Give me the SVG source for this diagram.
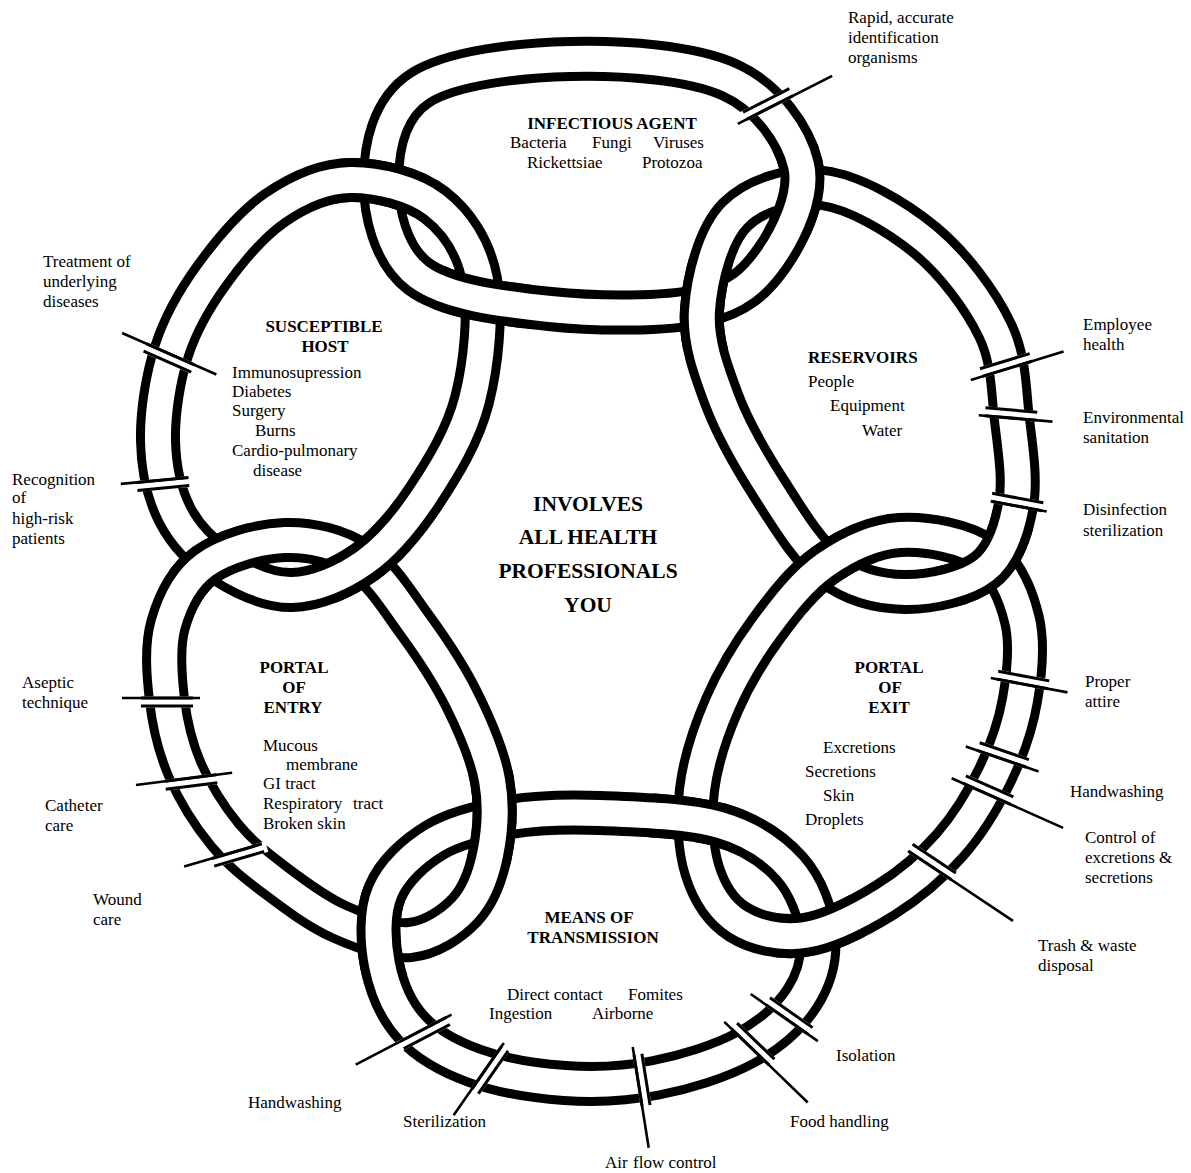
<svg xmlns="http://www.w3.org/2000/svg" width="1191" height="1173" viewBox="0 0 1191 1173">
<defs>
<style>
.ob{fill:none;stroke:#000;stroke-width:44}
.iw{fill:none;stroke:#fff;stroke-width:26}
.t{font-family:"Liberation Serif","Times New Roman",serif;font-size:17px;fill:#000}
.b{font-weight:bold}
.m{text-anchor:middle}
.big{font-size:21.5px}
.ld{stroke:#000;stroke-width:2.6;fill:none}
.cl{stroke:#000;stroke-width:3}
</style>
<path id="pT" d="M 381,180 C 381.3,148.7 388.5,108.2 420,88 C 451.5,67.8 518.3,60.3 570,59 C 621.7,57.7 691.5,62.3 730,80 C 768.5,97.7 794,135.3 801,165 C 808,194.7 788.5,234.5 772,258 C 755.5,281.5 739,297.5 702,306 C 665,314.5 597.3,314 550,309 C 502.7,304 446.2,297.5 418,276 C 389.8,254.5 380.7,211.3 381,180 Z"/>
<path id="pS" d="M 350,180 C 376.7,179.5 413.3,188.3 435,205 C 456.7,221.7 473.8,247.5 480,280 C 486.2,312.5 481.2,364.2 472,400 C 462.8,435.8 442.8,468 425,495 C 407.2,522 387.2,546.2 365,562 C 342.8,577.8 315.8,589.5 292,590 C 268.2,590.5 241.5,577.5 222,565 C 202.5,552.5 185.7,535.8 175,515 C 164.3,494.2 158.5,467.5 158,440 C 157.5,412.5 163,377.5 172,350 C 181,322.5 194.8,298.7 212,275 C 229.2,251.3 252,223.8 275,208 C 298,192.2 323.3,180.5 350,180 Z"/>
<path id="pR" d="M 823,188 C 854.7,192.2 896.3,216.3 925,240 C 953.7,263.7 980.5,300 995,330 C 1009.5,360 1008.5,390.8 1012,420 C 1015.5,449.2 1020.5,480 1016,505 C 1011.5,530 1003.5,555.5 985,570 C 966.5,584.5 930.8,592.3 905,592 C 879.2,591.7 852.5,585 830,568 C 807.5,551 788,518 770,490 C 752,462 733.3,430 722,400 C 710.7,370 699.8,340.8 702,310 C 704.2,279.2 714.8,235.3 735,215 C 755.2,194.7 791.3,183.8 823,188 Z"/>
<path id="pX" d="M 900,535 C 926.7,533.3 964.7,540.8 985,555 C 1005.3,569.2 1016.2,595.8 1022,620 C 1027.8,644.2 1024.5,674.2 1020,700 C 1015.5,725.8 1006.7,750.8 995,775 C 983.3,799.2 968.3,824.2 950,845 C 931.7,865.8 909.2,885 885,900 C 860.8,915 829.5,931.3 805,935 C 780.5,938.7 755.2,932.8 738,922 C 720.8,911.2 708.8,892 702,870 C 695.2,848 693.7,817.5 697,790 C 700.3,762.5 710.3,732 722,705 C 733.7,678 749.8,651.3 767,628 C 784.2,604.7 802.8,580.5 825,565 C 847.2,549.5 873.3,536.7 900,535 Z"/>
<path id="pM" d="M 600,813 C 635,814.3 688.3,815.8 720,825 C 751.7,834.2 773.7,849.7 790,868 C 806.3,886.3 816,913.3 818,935 C 820,956.7 814.2,979.2 802,998 C 789.8,1016.8 769.5,1034.7 745,1048 C 720.5,1061.3 685,1072.2 655,1078 C 625,1083.8 595,1085 565,1083 C 535,1081 500.5,1075.2 475,1066 C 449.5,1056.8 427.5,1044.8 412,1028 C 396.5,1011.2 386.5,987.7 382,965 C 377.5,942.3 376.2,912.8 385,892 C 393.8,871.2 414.2,852.5 435,840 C 455.8,827.5 482.5,821.5 510,817 C 537.5,812.5 565,811.7 600,813 Z"/>
<path id="pE" d="M 285,540 C 310.8,539.2 338.3,545.8 360,560 C 381.7,574.2 398,601.7 415,625 C 432,648.3 449.2,674.2 462,700 C 474.8,725.8 487.3,754.2 492,780 C 496.7,805.8 494.5,833.3 490,855 C 485.5,876.7 478.3,895.8 465,910 C 451.7,924.2 430.8,938 410,940 C 389.2,942 362.5,932 340,922 C 317.5,912 294.2,894.5 275,880 C 255.8,865.5 240,853.3 225,835 C 210,816.7 194.7,792.5 185,770 C 175.3,747.5 169.8,724.2 167,700 C 164.2,675.8 161.7,647.5 168,625 C 174.3,602.5 185.5,579.2 205,565 C 224.5,550.8 259.2,540.8 285,540 Z"/>
<mask id="m1" maskUnits="userSpaceOnUse" x="0" y="0" width="1191" height="1173"><circle cx="806" cy="187" r="50" fill="#fff"/></mask>
<mask id="m2" maskUnits="userSpaceOnUse" x="0" y="0" width="1191" height="1173"><circle cx="703" cy="305" r="50" fill="#fff"/></mask>
<mask id="m3" maskUnits="userSpaceOnUse" x="0" y="0" width="1191" height="1173"><circle cx="381" cy="182" r="50" fill="#fff"/></mask>
<mask id="m4" maskUnits="userSpaceOnUse" x="0" y="0" width="1191" height="1173"><circle cx="483" cy="298" r="50" fill="#fff"/></mask>
<mask id="m5" maskUnits="userSpaceOnUse" x="0" y="0" width="1191" height="1173"><circle cx="218" cy="561" r="50" fill="#fff"/></mask>
<mask id="m6" maskUnits="userSpaceOnUse" x="0" y="0" width="1191" height="1173"><circle cx="362" cy="561" r="50" fill="#fff"/></mask>
<mask id="m7" maskUnits="userSpaceOnUse" x="0" y="0" width="1191" height="1173"><circle cx="494" cy="817" r="50" fill="#fff"/></mask>
<mask id="m8" maskUnits="userSpaceOnUse" x="0" y="0" width="1191" height="1173"><circle cx="381" cy="933" r="50" fill="#fff"/></mask>
<mask id="m9" maskUnits="userSpaceOnUse" x="0" y="0" width="1191" height="1173"><circle cx="696" cy="820" r="50" fill="#fff"/></mask>
<mask id="m10" maskUnits="userSpaceOnUse" x="0" y="0" width="1191" height="1173"><circle cx="815" cy="931" r="50" fill="#fff"/></mask>
<mask id="m11" maskUnits="userSpaceOnUse" x="0" y="0" width="1191" height="1173"><circle cx="827" cy="566" r="50" fill="#fff"/></mask>
<mask id="m12" maskUnits="userSpaceOnUse" x="0" y="0" width="1191" height="1173"><circle cx="989" cy="562" r="56" fill="#fff"/></mask>
<g id="brk"><rect x="-30" y="-5.5" width="60" height="11" fill="#fff"/><line class="cl" x1="-26" y1="-4" x2="26" y2="-4"/><line class="cl" x1="-26" y1="4" x2="26" y2="4"/></g>
</defs>
<rect width="1191" height="1173" fill="#fff"/>

<g id="node-infectious-agent">
<use href="#pT" class="ob"/><use href="#pT" class="iw"/>
<text class="t b m" x="612" y="129">INFECTIOUS AGENT</text>
<text class="t" x="510" y="148">Bacteria</text><text class="t" x="592" y="148">Fungi</text><text class="t" x="653" y="148">Viruses</text>
<text class="t" x="527" y="168">Rickettsiae</text><text class="t" x="642" y="168">Protozoa</text>
</g>
<g id="node-reservoirs">
<use href="#pR" class="ob"/><use href="#pR" class="iw"/>
<text class="t b" x="808" y="363">RESERVOIRS</text>
<text class="t" x="808" y="387">People</text>
<text class="t" x="830" y="411">Equipment</text>
<text class="t" x="862" y="436">Water</text>
</g>
<g id="node-portal-of-exit">
<use href="#pX" class="ob"/><use href="#pX" class="iw"/>
<text class="t b m" x="889" y="673">PORTAL</text>
<text class="t b m" x="890" y="693">OF</text>
<text class="t b m" x="889" y="713">EXIT</text>
<text class="t" x="823" y="753">Excretions</text>
<text class="t" x="805" y="777">Secretions</text>
<text class="t" x="823" y="801">Skin</text>
<text class="t" x="805" y="825">Droplets</text>
</g>
<g id="node-means-of-transmission">
<use href="#pM" class="ob"/><use href="#pM" class="iw"/>
<text class="t b m" x="589" y="923">MEANS OF</text>
<text class="t b m" x="593" y="943">TRANSMISSION</text>
<text class="t" x="507" y="1000">Direct contact</text><text class="t" x="628" y="1000">Fomites</text>
<text class="t" x="489" y="1019">Ingestion</text><text class="t" x="592" y="1019">Airborne</text>
</g>
<g id="node-portal-of-entry">
<use href="#pE" class="ob"/><use href="#pE" class="iw"/>
<text class="t b m" x="294" y="673">PORTAL</text>
<text class="t b m" x="294" y="693">OF</text>
<text class="t b m" x="293" y="713">ENTRY</text>
<text class="t" x="263" y="751">Mucous</text>
<text class="t" x="286" y="770">membrane</text>
<text class="t" x="263" y="789">GI tract</text>
<text class="t" x="263" y="809">Respiratory</text><text class="t" x="353" y="809">tract</text>
<text class="t" x="263" y="829">Broken skin</text>
</g>
<g id="node-susceptible-host">
<use href="#pS" class="ob"/><use href="#pS" class="iw"/>
<text class="t b m" x="324" y="332">SUSCEPTIBLE</text>
<text class="t b m" x="325" y="352">HOST</text>
<text class="t" x="232" y="378">Immunosupression</text>
<text class="t" x="232" y="397">Diabetes</text>
<text class="t" x="232" y="416">Surgery</text>
<text class="t" x="255" y="436">Burns</text>
<text class="t" x="232" y="456">Cardio-pulmonary</text>
<text class="t" x="253" y="476">disease</text>
</g>

<g id="interlocks">
<g mask="url(#m1)"><use href="#pT" class="ob"/><use href="#pT" class="iw"/></g>
<g mask="url(#m2)"><use href="#pR" class="ob"/><use href="#pR" class="iw"/></g>
<g mask="url(#m3)"><use href="#pS" class="ob"/><use href="#pS" class="iw"/></g>
<g mask="url(#m4)"><use href="#pT" class="ob"/><use href="#pT" class="iw"/></g>
<g mask="url(#m5)"><use href="#pE" class="ob"/><use href="#pE" class="iw"/></g>
<g mask="url(#m6)"><use href="#pS" class="ob"/><use href="#pS" class="iw"/></g>
<g mask="url(#m7)"><use href="#pE" class="ob"/><use href="#pE" class="iw"/></g>
<g mask="url(#m8)"><use href="#pM" class="ob"/><use href="#pM" class="iw"/></g>
<g mask="url(#m9)"><use href="#pM" class="ob"/><use href="#pM" class="iw"/></g>
<g mask="url(#m10)"><use href="#pX" class="ob"/><use href="#pX" class="iw"/></g>
<g mask="url(#m11)"><use href="#pX" class="ob"/><use href="#pX" class="iw"/></g>
<g mask="url(#m12)"><use href="#pR" class="ob"/><use href="#pR" class="iw"/></g>
</g>

<g id="connectors">
<g transform="translate(768,104) rotate(-27)"><use href="#brk"/><line class="ld" x1="-36" y1="4" x2="70" y2="4"/></g>
<g transform="translate(1006,365) rotate(-17)"><use href="#brk"/><line class="ld" x1="-38" y1="4" x2="59" y2="4"/></g>
<g transform="translate(1011,414) rotate(5)"><use href="#brk"/><line class="ld" x1="-32" y1="4" x2="42" y2="4"/></g>
<g transform="translate(1017,502) rotate(10.5)"><use href="#brk"/><line class="ld" x1="-25" y1="4" x2="31" y2="4"/></g>
<g transform="translate(1023,680) rotate(10.6)"><use href="#brk"/><line class="ld" x1="-32" y1="4" x2="46" y2="4"/></g>
<g transform="translate(1003,755) rotate(19)"><use href="#brk"/><line class="ld" x1="-38" y1="4" x2="39" y2="4"/></g>
<g transform="translate(988,790) rotate(24)"><use href="#brk"/><line class="ld" x1="-38" y1="4" x2="84" y2="4"/></g>
<g transform="translate(932,862) rotate(33.7)"><use href="#brk"/><line class="ld" x1="-25" y1="4" x2="100" y2="4"/></g>
<g transform="translate(789,1016) rotate(35)"><use href="#brk"/><line class="ld" x1="-44" y1="4" x2="38" y2="4"/></g>
<g transform="translate(753,1044) rotate(44)"><use href="#brk"/><line class="ld" x1="-36" y1="4" x2="80" y2="4"/></g>
<g transform="translate(642,1080) rotate(81)"><use href="#brk"/><line class="ld" x1="-34" y1="4" x2="68" y2="4"/></g>
<g transform="translate(490,1070) rotate(124.8)"><use href="#brk"/><line class="ld" x1="-30" y1="4" x2="58" y2="4"/></g>
<g transform="translate(425,1033) rotate(152.5)"><use href="#brk"/><line class="ld" x1="-32" y1="4" x2="76" y2="4"/></g>
<g transform="translate(238,855) rotate(163.7)"><use href="#brk"/><line class="ld" x1="-22" y1="4" x2="55" y2="4"/></g>
<g transform="translate(191,782) rotate(172.8)"><use href="#brk"/><line class="ld" x1="-42" y1="4" x2="55" y2="4"/></g>
<g transform="translate(167,702) rotate(180)"><use href="#brk"/><line class="ld" x1="-33" y1="4" x2="45" y2="4"/></g>
<g transform="translate(163,484) rotate(174.7)"><use href="#brk"/><line class="ld" x1="-25" y1="4" x2="42" y2="4"/></g>
<g transform="translate(169,358) rotate(-156.2)"><use href="#brk"/><line class="ld" x1="-50" y1="4" x2="53" y2="4"/></g>
</g>

<g id="center-text">
<text class="t b m big" x="588" y="511">INVOLVES</text>
<text class="t b m big" x="588" y="544">ALL HEALTH</text>
<text class="t b m big" x="588" y="578">PROFESSIONALS</text>
<text class="t b m big" x="588" y="612">YOU</text>
</g>

<g id="labels">
<text class="t" x="848" y="23">Rapid, accurate</text>
<text class="t" x="848" y="43">identification</text>
<text class="t" x="848" y="63">organisms</text>
<text class="t" x="43" y="267">Treatment of</text>
<text class="t" x="43" y="287">underlying</text>
<text class="t" x="43" y="307">diseases</text>
<text class="t" x="12" y="485">Recognition</text>
<text class="t" x="12" y="503">of</text>
<text class="t" x="12" y="524">high-risk</text>
<text class="t" x="12" y="544">patients</text>
<text class="t" x="1083" y="330">Employee</text>
<text class="t" x="1083" y="350">health</text>
<text class="t" x="1083" y="423">Environmental</text>
<text class="t" x="1083" y="443">sanitation</text>
<text class="t" x="1083" y="515">Disinfection</text>
<text class="t" x="1083" y="536">sterilization</text>
<text class="t" x="22" y="688">Aseptic</text>
<text class="t" x="22" y="708">technique</text>
<text class="t" x="1085" y="687">Proper</text>
<text class="t" x="1085" y="707">attire</text>
<text class="t" x="45" y="811">Catheter</text>
<text class="t" x="45" y="831">care</text>
<text class="t" x="1070" y="797">Handwashing</text>
<text class="t" x="1085" y="843">Control of</text>
<text class="t" x="1085" y="863">excretions &amp;</text>
<text class="t" x="1085" y="883">secretions</text>
<text class="t" x="93" y="905">Wound</text>
<text class="t" x="93" y="925">care</text>
<text class="t" x="1038" y="951">Trash &amp; waste</text>
<text class="t" x="1038" y="971">disposal</text>
<text class="t" x="836" y="1061">Isolation</text>
<text class="t" x="248" y="1108">Handwashing</text>
<text class="t" x="790" y="1127">Food handling</text>
<text class="t" x="403" y="1127">Sterilization</text>
<text class="t" x="605" y="1168">Air</text><text class="t" x="633" y="1168">flow control</text>
</g>
</svg>
